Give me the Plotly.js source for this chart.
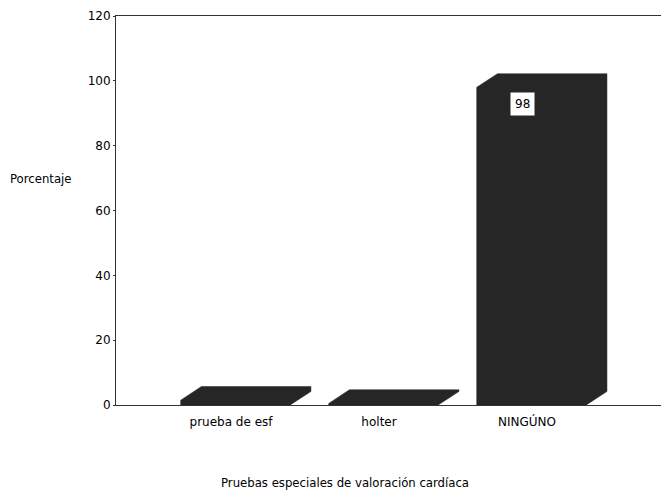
<!DOCTYPE html>
<html>
<head>
<meta charset="utf-8">
<script src="https://cdn.plot.ly/plotly-3.0.1.min.js"></script>
<style>html,body{margin:0;padding:0;background:#fff;}#chart{width:661px;height:497px;}</style>
</head>
<body>
<div id="chart"></div>
<script>
// Data
const categories = ["prueba de esf", "holter", "NINGÚNO"];
const percentages = [1.5, 0.5, 98];
const labelShown = [null, null, "98"];
const yTicks = [0, 20, 40, 60, 80, 100, 120];

// Style constants (3D look)
const halfW = 0.44, offset = 0.1, depthX = 0.14, depthY = 4.2;
const barColor = "#262626";

const traces = categories.map((c, i) => {
  const v = percentages[i];
  const cx = i + offset;
  const x0 = cx - halfW, x1 = cx + halfW;
  return {
    type: "scatter", mode: "lines", fill: "toself",
    x: [x0, x0, x0 + depthX, x1, x1, x1 - depthX, x0],
    y: [0, v, v + depthY, v + depthY, depthY, 0, 0],
    line: {color: barColor, width: 0.5},
    fillcolor: barColor,
    hoverinfo: "skip", showlegend: false
  };
});

const annotations = [];
labelShown.forEach((t, i) => {
  if (t) annotations.push({
    x: i - 0.03, y: percentages[i] - 5, xref: "x", yref: "y",
    text: t, showarrow: false, bgcolor: "#ffffff",
    font: {family: "DejaVu Sans, sans-serif", size: 12, color: "#000"},
    borderpad: 4, xanchor: "center", yanchor: "middle"
  });
});
const narrowFont = {family: "Liberation Sans Narrow, DejaVu Sans Condensed, sans-serif", size: 13, color: "#000"};
annotations.push({
  xref: "paper", yref: "paper", x: (345 - 116) / 545, y: -77 / 389,
  text: "Pruebas especiales de valoración cardíaca", showarrow: false,
  xanchor: "center", yanchor: "middle", font: narrowFont
});
annotations.push({
  xref: "paper", yref: "paper", x: (8 - 116) / 545, y: (405 - 178) / 389,
  text: "Porcentaje", showarrow: false, xanchor: "left", yanchor: "middle",
  font: narrowFont
});

const tickFont = {family: "DejaVu Sans, sans-serif", size: 12, color: "#000"};
const layout = {
  width: 661, height: 497,
  margin: {l: 116, r: 0, t: 16, b: 92},
  paper_bgcolor: "#fff", plot_bgcolor: "#fff",
  showlegend: false,
  xaxis: {
    range: [-0.777, 2.905], tickvals: [0, 1, 2], ticktext: categories,
    showgrid: false, zeroline: false, showline: true, linecolor: "#333", linewidth: 1,
    mirror: true, ticks: "", ticklen: 0, ticklabelstandoff: 6,
    tickfont: tickFont
  },
  yaxis: {
    range: [0, 120], tickvals: yTicks, showgrid: false, zeroline: false,
    showline: true, linecolor: "#333", linewidth: 1, ticks: "outside", ticklen: 2,
    tickcolor: "#333", tickfont: tickFont
  },
  annotations: annotations
};

Plotly.newPlot("chart", traces, layout, {displayModeBar: false, staticPlot: true});
</script>
</body>
</html>
